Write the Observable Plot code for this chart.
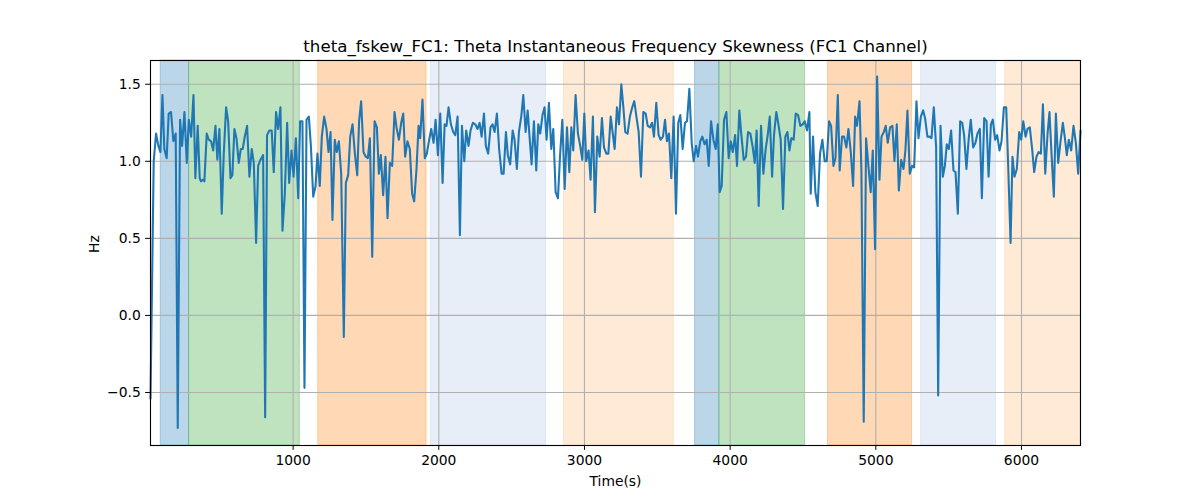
<!DOCTYPE html>
<html>
<head>
<meta charset="utf-8">
<script src="https://cdn.jsdelivr.net/npm/d3@7"></script>
<script src="https://cdn.jsdelivr.net/npm/@observablehq/plot@0.6"></script>
<style>
  html, body { margin: 0; padding: 0; background: white; }
  #chart { width: 1200px; height: 500px; }
</style>
</head>
<body>
<div id="chart"></div>
<script>
const titleText = "theta_fskew_FC1: Theta Instantaneous Frequency Skewness (FC1 Channel)";
const xLabel = "Time(s)";
const yLabel = "Hz";
const xTicks = [1000, 2000, 3000, 4000, 5000, 6000];
const yTicks = [-0.5, 0.0, 0.5, 1.0, 1.5];
const xDomain = [21, 6405];
const yDomain = [-0.844, 1.654];

// shaded stages
const bandStart = [91, 286, 1172, 1946, 2859, 3759, 3926, 4672, 5311, 5888];
const bandEnd   = [286, 1046, 1916, 2736, 3613, 3926, 4514, 5249, 5826, 6405];
const bandColor = ["#1f77b4", "#2ca02c", "#ff7f0e", "#aec7e8", "#ffbb78",
                   "#1f77b4", "#2ca02c", "#ff7f0e", "#aec7e8", "#ffbb78"];

// time (s)
const T = [
  21,43,59,75,89,103,116,132,146,162, 178,194,208,224,238,254,270,284,300,316,
  329,345,359,368,380,391,407,421,437,451, 467,480,494,510,524,540,554,570,583,597,
  611,627,641,654,668,684,700,716,730,746, 760,776,794,808,821,837,853,867,883,897,
  913,
  927,943,959,973,989,1003,1019,1035,1048,1064, 1078,1092,1108,1122,1138,1154,1167,1183,1197,1213,
  1229,1243,1257,1270,1286,1300,1314,1330,1348,1362, 1378,1392,1408,1424,1440,1453,1467,1483,1499,1513,
  1527,1543,1559,1575,1589,1602,1618,1634,1648,1664, 1680,1696,1710,1726,1742,1756,1769,1785,1801,1817,
  1831,
  1847,1861,1872,1888,1904,1918,1934,1948,1964,1978, 1994,2010,2026,2040,2053,2067,2083,2099,2113,2129,
  2145,2159,2175,2188,2204,2218,2234,2250,2266,2280, 2294,2310,2323,2339,2355,2369,2383,2399,2415,2431,
  2445,2461,2474,2490,2507,2520,2536,2550,2566,2580, 2596,2610,2623,2637,2653,2669,2683,2696,2712,2726,
  2740,2756,2772,2786,2802,2818,2832,2848,2864,2880, 2896,2910,2923,2939,2955,2969,2985,2999,3012,3028,
  3042,3058,3072,3088,3104,3120,3134,3150,3164,3180, 3193,3207,3223,3237,3253,3267,3280,3296,3312,3328,
  3342,3358,3372,3388,3404,3420,3434,3450,3464,3477, 3493,3509,3523,3539,3553,3566,3580,3596,3612,3628,
  3644,3658,3674,3690,3704,3720,3736,3750,3766,3779, 3795,3809,3825,3839,3853,3869,3885,3901,3915,3928,
  3942,3958,3974,3990,4004,4018,4034,4047,4063,4077, 4093,4109,4123,4139,4155,4169,4182,4196,4212,4228,
  4244,4258,4272,4288,4301,4317,4333,4347,4363,4379, 4393,4407,4420,4436,4450,4466,4482,4498,4512,4528,
  4544,
  4553,4569,4585,4601,4617,4633,4649,4663,4679,4693, 4709,4723,4739,4752,4768,4782,4798,4812,4828,4844,
  4858,4871,4888,4901,4917,4933,4949,4965,4979,4995, 5009,5025,5039,5055,5068,5082,5098,5114,5128,5144,
  5158,5174,5190,5203,5217,5233,5249,5263,5279,5293, 5309,5325,5338,5354,5368,5382,5398,5414,5428,5444,
  5460,
  5474,5487,5501,5517,5533,5547,5563,5579,5593,5606, 5622,5638,5652,5668,5684,5698,5714,5728,5744,5760,
  5774,5790,5803,5819,5833,5849,5863,5879,5895,5909, 5925,5938,5952,5968,5984,5998,6012,6028,6041,6057,
  6073,6087,6103,6117,6133,6147,6163,6179,6192,6206, 6222,6236,6252,6268,6284,6298,6311,6325,6341,6357,
  6373,6389,6405
];

// skewness (Hz)
const V = [
  -0.54,1.00,1.18,1.10,1.06,1.43,1.08,1.02,1.31,1.32, 1.13,1.18,-0.73,1.27,1.10,1.32,0.99,1.27,1.16,1.43,
  0.89,1.23,0.89,0.87,0.88,0.87,1.18,1.14,1.13,1.07, 1.23,1.01,1.21,0.66,1.05,1.35,1.26,0.89,0.91,1.21,
  1.15,0.99,1.08,1.08,1.16,1.23,0.90,1.08,0.99,0.47, 0.97,1.01,1.04,-0.66,1.17,1.20,1.20,0.93,1.32,1.21,
  1.35,
  0.55,0.79,1.25,0.86,1.07,0.90,1.15,0.76,1.26,1.26, -0.47,1.27,1.29,1.10,0.77,0.84,1.05,0.84,1.16,1.29,
  1.21,1.06,1.19,0.62,1.14,1.06,1.13,0.92,-0.14,0.86, 0.91,1.16,1.24,1.05,0.91,1.26,1.39,1.06,1.03,1.02,
  1.15,0.38,1.26,1.22,0.92,1.04,0.78,1.03,0.63,0.99, 0.97,1.32,1.22,1.14,1.25,1.31,1.03,1.13,1.08,0.79,
  0.74,
  0.95,1.23,1.15,1.40,1.02,1.05,1.14,1.21,1.12,1.27, 1.04,1.31,0.86,1.24,1.23,1.35,1.24,1.19,1.17,1.29,
  0.52,1.23,1.00,1.20,1.10,1.20,1.25,1.24,1.21,1.25, 1.16,1.31,1.10,1.05,1.22,1.24,1.19,1.31,1.07,0.92,
  0.92,1.19,1.04,0.98,1.20,1.14,0.95,1.19,1.29,1.43, 1.19,1.33,1.16,0.98,1.26,0.94,1.24,1.18,1.30,1.35,
  1.14,1.38,1.08,1.21,0.80,0.76,1.03,1.27,0.82,1.22, 0.93,1.22,1.07,1.43,1.18,1.11,1.01,1.31,1.00,1.07,
  0.88,1.29,0.67,1.16,1.03,1.28,1.09,1.05,1.05,1.29, 1.19,1.08,1.35,1.24,1.50,1.35,1.19,1.18,1.29,1.35,
  1.39,1.28,1.19,0.90,1.32,1.31,1.23,1.22,1.25,1.16, 1.38,1.17,1.14,1.16,1.27,1.13,1.18,0.89,1.29,0.66,
  1.25,1.30,1.08,1.25,1.26,1.47,1.12,1.00,1.10,1.03, 1.13,1.16,1.11,1.14,0.97,1.26,1.14,1.08,1.24,0.80,
  0.84,1.27,1.32,1.02,1.13,1.06,1.17,0.97,1.33,1.17, 1.01,1.03,1.19,1.18,1.09,0.99,1.20,0.71,1.23,0.92,
  1.08,1.17,1.29,0.90,1.17,1.32,1.23,1.14,0.69,1.16, 1.19,1.07,1.15,1.14,1.31,1.30,1.23,1.24,1.26,1.20,
  1.32,
  0.79,1.16,0.80,0.71,1.05,1.14,1.00,1.00,1.26,1.23, 0.97,1.02,1.43,0.94,1.16,1.16,1.09,1.21,1.06,0.84,
  1.29,1.23,1.39,0.94,-0.69,1.15,0.97,0.80,1.07,0.43, 1.55,0.88,1.16,1.19,1.23,1.12,1.22,1.23,1.00,1.24,
  0.81,1.01,0.95,1.07,1.33,0.92,0.97,0.96,1.39,1.15, 1.29,1.33,1.28,1.16,1.16,1.15,1.35,1.09,-0.52,1.23,
  0.90,
  0.97,1.11,1.08,1.20,0.94,0.93,0.66,1.26,1.25,1.17, 0.95,1.15,1.27,1.09,1.12,1.18,1.21,0.76,1.28,1.26,
  0.90,1.24,1.27,1.14,1.17,1.07,1.13,1.35,1.35,0.96, 0.47,1.03,0.90,0.95,1.19,1.14,1.26,1.16,1.21,1.22,
  1.08,0.93,1.03,1.06,1.05,1.37,0.92,1.18,1.32,1.05, 0.77,1.31,0.99,1.13,1.25,1.15,1.04,1.14,1.07,1.23,
  1.12,0.92,1.20
];

const series = T.map((t, i) => ({t, v: V[i]}));
const bands = bandStart.map((s, i) => ({start: s, end: bandEnd[i], color: bandColor[i]}));
const fmtY = d => (d < 0 ? "\u2212" + Math.abs(d).toFixed(1) : d.toFixed(1));

const chart = Plot.plot({
  width: 1200,
  height: 500,
  marginLeft: 150,
  marginRight: 120,
  marginTop: 60,
  marginBottom: 55,
  style: {fontFamily: "DejaVu Sans", fontSize: "13.89px", color: "black", background: "white", overflow: "visible"},
  x: {domain: xDomain},
  y: {domain: yDomain},
  color: {type: "identity"},
  marks: [
    Plot.rect(bands, {x1: "start", x2: "end", fill: "color", fillOpacity: 0.3, stroke: "color", strokeOpacity: 0.3, strokeWidth: 1}),
    Plot.gridX(xTicks, {stroke: "#b0b0b0", strokeOpacity: 1, strokeWidth: 1.11}),
    Plot.gridY(yTicks, {stroke: "#b0b0b0", strokeOpacity: 1, strokeWidth: 1.11}),
    Plot.line(series, {x: "t", y: "v", stroke: "#1f77b4", strokeWidth: 2.08}),
    Plot.frame({stroke: "black", strokeWidth: 1.11}),
    Plot.axisX(xTicks, {tickSize: 4.86, tickPadding: 4.86, tickFormat: d => String(d), label: null, stroke: "black"}),
    Plot.axisY(yTicks, {tickSize: 4.86, tickPadding: 4.86, tickFormat: fmtY, label: null, stroke: "black"}),
    Plot.text([titleText], {frameAnchor: "top", dy: -14, fontSize: 16.67, fill: "black", lineAnchor: "middle"}),
    Plot.text([xLabel], {frameAnchor: "bottom", dy: 36, fontSize: 13.89, fill: "black", lineAnchor: "middle"}),
    Plot.text([yLabel], {frameAnchor: "left", dx: -56, rotate: -90, fontSize: 13.89, fill: "black", lineAnchor: "middle"})
  ]
});
document.getElementById("chart").appendChild(chart);
</script>
</body>
</html>
